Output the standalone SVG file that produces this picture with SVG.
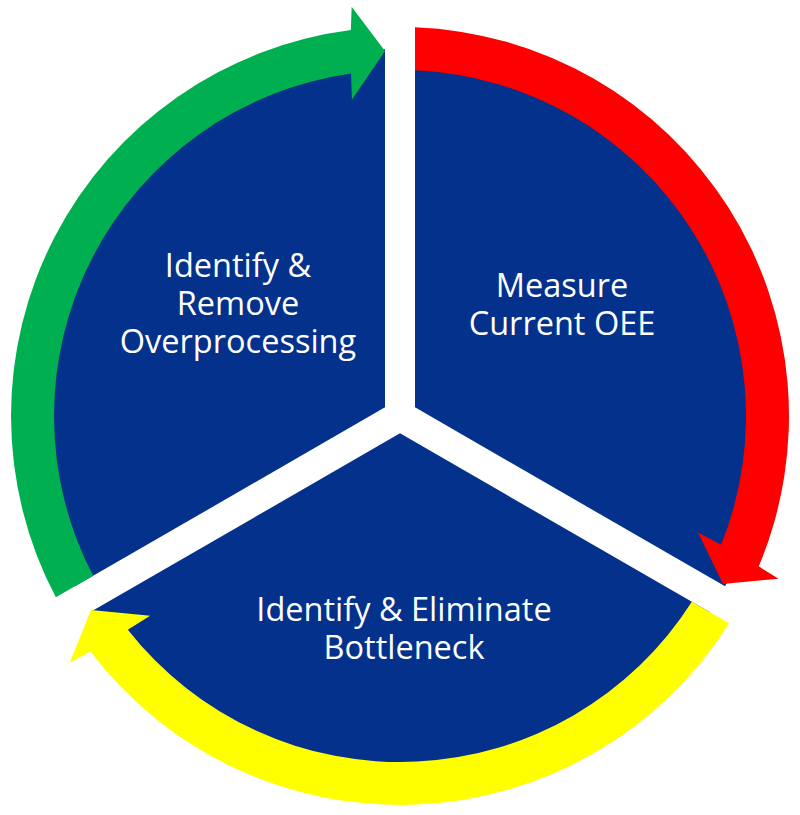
<svg xmlns="http://www.w3.org/2000/svg" width="800" height="815" viewBox="0 0 800 815">
<style>
.seg{fill:#03318B;}
.lbl{font-family:"Open Sans","Noto Sans","Liberation Sans",sans-serif;font-size:32.5px;fill:#FFFFFF;text-anchor:middle;}
</style>
<rect x="0" y="0" width="800" height="815" fill="#FFFFFF"/>
<g id="node-measure">
<path class="seg" d="M 415 407.33 L 415 49.31 A 367 367 0 0 1 725.06 586.35 Z"/>
<text class="lbl" x="562" y="297">Measure</text>
<text class="lbl" x="562" y="335">Current OEE</text>
</g>
<g id="node-bottleneck">
<path class="seg" d="M 400 433.32 L 710.06 612.35 A 367 367 0 0 1 89.94 612.35 Z"/>
<text class="lbl" x="404" y="621">Identify &amp; Eliminate</text>
<text class="lbl" x="404" y="659">Bottleneck</text>
</g>
<g id="node-overprocessing">
<path class="seg" d="M 385 407.33 L 74.94 586.35 A 367 367 0 0 1 385 49.31 Z"/>
<text class="lbl" x="238" y="277">Identify &amp;</text>
<text class="lbl" x="238" y="315">Remove</text>
<text class="lbl" x="238" y="353">Overprocessing</text>
</g>
<g id="connectors">
<path id="arrow-red" fill="#FF0000" d="M 415 27.29 A 389 389 0 0 1 758.76 566.37 L 778.51 578.71 L 723 584 L 698.02 532.55 L 721.12 544.83 A 346 346 0 0 0 415 70.33 Z"/>
<path id="arrow-yellow" fill="#FFFF00" d="M 729.12 623.36 A 389 389 0 0 1 90.41 651.54 L 69.85 662.46 L 91 610 L 150.09 615.86 L 127.84 629.65 A 346 346 0 0 0 691.85 601.84 Z"/>
<path id="arrow-green" fill="#00B050" d="M 55.88 597.36 A 389 389 0 0 1 350.84 30.12 L 351.65 6.85 L 385 51 L 351.93 99.63 L 351.01 73.48 A 346 346 0 0 0 93.15 575.84 Z"/>
</g>
</svg>
